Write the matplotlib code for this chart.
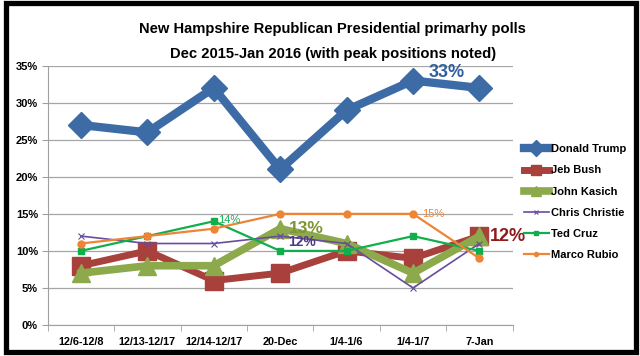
import matplotlib
matplotlib.use("Agg")
import matplotlib.pyplot as plt
from matplotlib.patches import Rectangle

plt.rcParams['font.family'] = ['Liberation Sans', 'DejaVu Sans']

periods = ["12/6-12/8", "12/13-12/17", "12/14-12/17", "20-Dec", "1/4-1/6", "1/4-1/7", "7-Jan"]
trump = [27, 26, 32, 21, 29, 33, 32]
bush = [8, 10, 6, 7, 10, 9, 12]
kasich = [7, 8, 8, 13, 11, 7, 12]
christie = [12, 11, 11, 12, 11, 5, 11]
cruz = [10, 12, 14, 10, 10, 12, 10]
rubio = [11, 12, 13, 15, 15, 15, 9]

fig = plt.figure(figsize=(6.4, 3.56), dpi=100)
ax = fig.add_axes([0.0745, 0.0871, 0.7265, 0.7283])

x = list(range(len(periods)))
series = [
    ("Donald Trump", trump, dict(color="#3D6BA6", lw=6, marker="D", ms=13)),
    ("Jeb Bush", bush, dict(color="#A8403C", lw=5, marker="s", ms=13)),
    ("John Kasich", kasich, dict(color="#8CA94C", lw=5.5, marker="^", ms=13)),
    ("Chris Christie", christie, dict(color="#6A4C9C", lw=1.2, marker="x", ms=5, mew=0.8)),
    ("Ted Cruz", cruz, dict(color="#12AE4E", lw=1.6, marker="s", ms=4.5)),
    ("Marco Rubio", rubio, dict(color="#EE8436", lw=1.6, marker="o", ms=5)),
]
handles = []
for name, vals, st in series:
    h, = ax.plot(x, vals, label=name, solid_joinstyle="miter", **st)
    handles.append(h)

ax.set_xlim(-0.5, len(periods) - 0.5)
ax.set_ylim(0, 35)
ax.set_yticks(range(0, 36, 5))
ax.set_yticklabels([f"{v}%" for v in range(0, 36, 5)], fontsize=8, fontweight="bold")
ax.set_xticks(x)
ax.set_xticklabels(periods, fontsize=7.8, fontweight="bold")
ax.set_xticks([i - 0.5 for i in range(len(periods) + 1)], minor=True)
ax.tick_params(axis="x", which="major", length=0, pad=9)
ax.tick_params(axis="x", which="minor", length=4, color="#A0A0A0", direction="out")
ax.tick_params(axis="y", length=4, color="#A0A0A0", pad=3)
ax.grid(axis="y", color="#A6A6A6", lw=0.9)
ax.set_axisbelow(True)
for s in ["top", "right"]:
    ax.spines[s].set_visible(False)
for s in ["left", "bottom"]:
    ax.spines[s].set_color("#A0A0A0")

# peak labels
ax.annotate("33%", (5, 33), xytext=(34, 8), textcoords="offset pixels", ha="center", va="center",
            fontsize=13, fontweight="bold", color="#2F5F9E")
ax.annotate("12%", (6, 12), xytext=(29, 0), textcoords="offset pixels", ha="center", va="center",
            fontsize=13, fontweight="bold", color="#8E1C1C")
ax.annotate("13%", (3, 13), xytext=(26, 0), textcoords="offset pixels", ha="center", va="center",
            fontsize=12.5, fontweight="bold", color="#7F9434")
ax.annotate("12%", (3, 12), xytext=(22, -6), textcoords="offset pixels", ha="center", va="center",
            fontsize=10, fontweight="bold", color="#4E3A86")
ax.annotate("14%", (2, 14), xytext=(15, 1), textcoords="offset pixels", ha="center", va="center",
            fontsize=8, color="#12AE4E")
ax.annotate("15%", (5, 15), xytext=(20, 0), textcoords="offset pixels", ha="center", va="center",
            fontsize=8, color="#EE8436")

fig.text(0.52, 0.918, "New Hampshire Republican Presidential primarhy polls",
         ha="center", va="center", fontsize=10.6, fontweight="bold")
fig.text(0.52, 0.849, "Dec 2015-Jan 2016 (with peak positions noted)",
         ha="center", va="center", fontsize=10.6, fontweight="bold")

leg = fig.legend(handles=handles, loc="upper left", bbox_to_anchor=(0.812, 0.607),
                 frameon=False, fontsize=8, handlelength=2.2, handletextpad=0.2,
                 labelspacing=1.0, markerscale=0.6, borderaxespad=0)
for t in leg.get_texts():
    t.set_fontweight("bold")

fig.patches.append(Rectangle((5.5 / 640, 1 - 351.5 / 356), 630 / 640, 348.5 / 356,
                             transform=fig.transFigure, fill=False, ec="black", lw=3.8))

fig.savefig("out.png", dpi=100)
